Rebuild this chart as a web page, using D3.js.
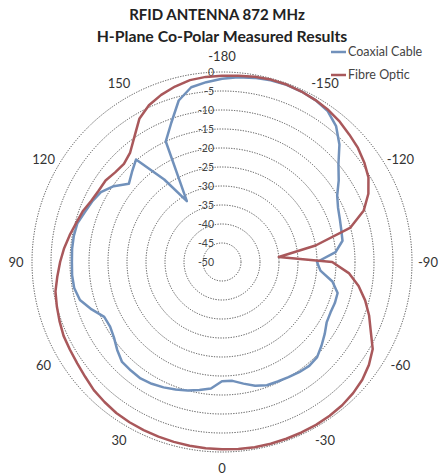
<!DOCTYPE html>
<html>
<head>
<meta charset="utf-8">
<script src="https://cdn.jsdelivr.net/npm/d3@7"></script>
<style>
    body { margin: 0; background: #fff; }
    svg { display: block; font-family: Lato, "Open Sans", sans-serif; }
</style>
</head>
<body>
<div id="chart"></div>
<script>
// category angles (deg), -180 at top, going clockwise
const angles = d3.range(-180, 180, 5);

const coaxial = [
    -1.8, -1.2, -0.8, -0.5, -0.4, -0.5, -0.8, -1.5, -3.3, -6.3,
    -10, -12.5, -15, -16.3, -17, -17.5, -17.8, -20, -25, -24,
    -20.5, -18.5, -18.4, -18.5, -18.2, -17, -15.8, -14.6, -14.3, -14.6,
    -15, -15.3, -15.5, -16.3, -17.5, -18.6, -18.6, -16.6, -15.8, -15,
    -14.3, -13.6, -13, -12.6, -12.7, -12.8, -14, -15.3, -16, -15.8,
    -13.5, -11.3, -10.5, -10.4, -10.5, -10.4, -10.4, -10.6, -11.6, -12.3,
    -13.2, -15.2, -18, -16.5, -14.8, -23.5, -31.5, -15, -11, -6,
    -3.3, -2.5
];

const fibre = [
    -1, -0.8, -0.5, -0.3, -0.3, -0.5, -0.8, -1.2, -1.8, -2.6,
    -3.3, -4.3, -5.5, -7.5, -10.3, -15, -25, -35, -21, -16.5,
    -13.5, -11, -8.8, -6.8, -4.2, -2.8, -1.8, -1.2, -0.8, -0.6,
    -0.5, -0.5, -0.5, -0.5, -0.5, -0.6, -0.7, -0.8, -0.9, -1,
    -1.1, -1.2, -1.3, -1.5, -1.9, -2.3, -3, -3.5, -3.8, -4,
    -4.5, -5, -5.5, -6.5, -7.4, -8.3, -9.3, -10.3, -11, -12,
    -12.5, -12.6, -13.3, -13.5, -12.4, -9.8, -6.5, -4.5, -3.2, -2.2,
    -1.4, -1.1
];

const ringTicks = d3.range(-45, 1, 5);
const valueLabels = d3.range(-50, 1, 5);
const angleLabels = [-180, -150, -120, -90, -60, -30, 0, 30, 60, 90, 120, 150];

const series = [
    { name: "Coaxial Cable", values: coaxial, color: "#7191bb" },
    { name: "Fibre Optic", values: fibre, color: "#a9585b" }
];

const width = 441, height = 475;
const cx = 222, cy = 262, radius = 190;

const svg = d3.select("#chart").append("svg")
    .attr("width", width)
    .attr("height", height);

const r = d3.scaleLinear().domain([-50, 0]).range([0, radius]);
const a = d3.scaleLinear().domain([-180, 180]).range([0, 2 * Math.PI]);

const g = svg.append("g").attr("transform", `translate(${cx},${cy})`);

// dotted rings
g.selectAll(".ring")
    .data(ringTicks)
    .enter().append("circle")
    .attr("class", "ring")
    .attr("r", d => r(d))
    .attr("fill", "none")
    .attr("stroke", "#4a4a4a")
    .attr("stroke-width", 1)
    .attr("stroke-dasharray", "1.2,1.4");

// value labels on the vertical axis
g.selectAll(".vlabel")
    .data(valueLabels)
    .enter().append("text")
    .attr("class", "vlabel")
    .attr("x", -8)
    .attr("y", d => -r(d))
    .attr("dy", "0.35em")
    .attr("text-anchor", "end")
    .attr("font-size", 10.5)
    .attr("fill", "#444")
    .text(d => d);

// angle labels
const labelR = 206;
g.selectAll(".alabel")
    .data(angleLabels)
    .enter().append("text")
    .attr("class", "alabel")
    .attr("x", d => labelR * Math.sin(a(d)))
    .attr("y", d => -labelR * Math.cos(a(d)))
    .attr("dy", "0.35em")
    .attr("text-anchor", "middle")
    .attr("font-size", 13)
    .attr("fill", "#333")
    .text(d => d);

const line = d3.lineRadial()
    .angle((d, i) => a(angles[i]))
    .radius(d => r(d))
    .curve(d3.curveLinearClosed);

g.selectAll(".series")
    .data(series)
    .enter().append("path")
    .attr("class", "series")
    .attr("d", d => line(d.values))
    .attr("fill", "none")
    .attr("stroke", d => d.color)
    .attr("stroke-width", 2.5)
    .attr("stroke-linejoin", "round");

// title
svg.append("text")
    .attr("x", 217).attr("y", 20)
    .attr("text-anchor", "middle")
    .attr("font-size", 15).attr("font-weight", "bold")
    .attr("fill", "#222")
    .text("RFID ANTENNA 872 MHz");
svg.append("text")
    .attr("x", 222).attr("y", 42)
    .attr("text-anchor", "middle")
    .attr("font-size", 15.8).attr("font-weight", "bold")
    .attr("fill", "#222")
    .text("H-Plane Co-Polar Measured Results");

// legend
const legend = svg.selectAll(".legend")
    .data(series)
    .enter().append("g")
    .attr("class", "legend")
    .attr("transform", (d, i) => `translate(331,${52 + i * 23})`);
legend.append("line")
    .attr("x1", 0).attr("x2", 15)
    .attr("stroke", d => d.color)
    .attr("stroke-width", 2.5);
legend.append("text")
    .attr("x", 17)
    .attr("dy", "0.35em")
    .attr("font-size", 12.5)
    .attr("fill", "#444")
    .text(d => d.name);
</script>
</body>
</html>
